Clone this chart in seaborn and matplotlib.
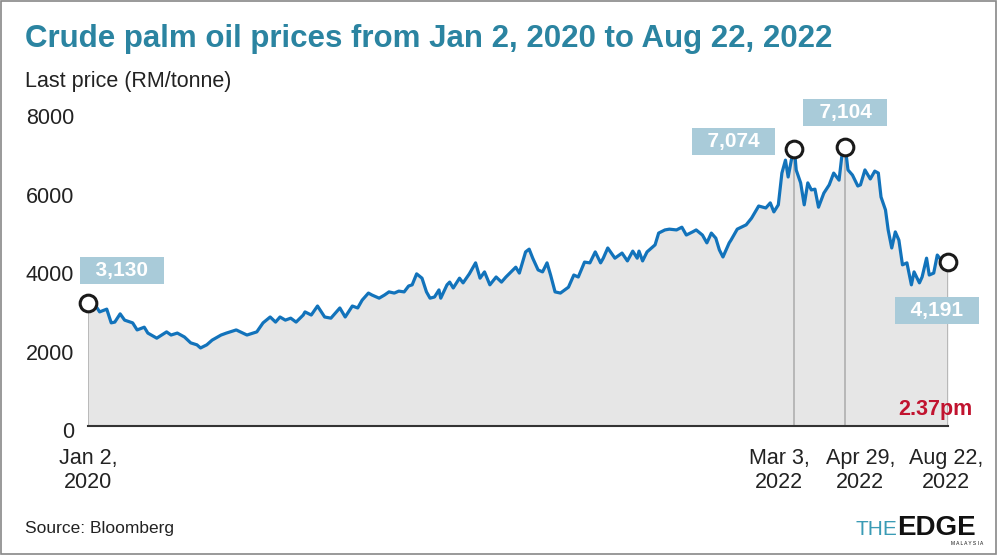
import pandas as pd
import matplotlib
matplotlib.use("Agg")
import matplotlib.pyplot as plt
import matplotlib.transforms as mtrans
from matplotlib.patches import Rectangle
import seaborn as sns

# day offsets from Jan 2, 2020 and last price (RM/tonne)
day_offsets = [
    0, 8, 13, 21, 26, 30, 36, 41, 50, 55, 63, 67, 77, 88, 93, 100, 108, 115, 122, 126,
    133, 139, 149, 155, 166, 178, 189, 196, 204, 210, 215, 221, 227, 233, 241,
    243, 250, 257, 265, 272, 282, 288, 296, 302, 307, 314, 318, 326, 332, 337, 343,
    348, 354, 359, 363, 368, 374, 379, 383, 388, 393, 395, 402, 405, 409, 416, 420,
    427, 434, 439, 444, 450, 457, 463, 468, 476, 479,
    483, 490, 494, 498, 504, 509, 514, 518, 523, 529, 538, 544, 549, 556, 562, 568,
    574, 577, 582, 590, 598, 604, 610, 615, 617, 621, 626, 631, 635, 639, 646, 651,
    659, 665, 670, 677, 681, 688, 693, 698, 703, 707, 711, 718,
    720, 727, 737, 743, 751, 759, 764, 768, 773, 777, 781, 784, 788, 791,
    793, 798, 802, 806, 810, 814, 818, 824, 830, 835, 841, 844, 848,
    851, 856, 862, 865, 870, 876, 881, 885, 888, 893, 896, 900, 904, 908, 912, 917,
    922, 925, 931, 934, 939, 942, 947, 951, 957, 963,
]
prices = [
    3130, 3090, 2910, 2980, 2630, 2650, 2860, 2700, 2630, 2450, 2520, 2370, 2240, 2400, 2320, 2370, 2270, 2120, 2070, 1990,
    2070, 2190, 2320, 2370, 2450, 2320, 2400, 2630, 2780, 2650, 2780, 2700, 2750, 2650, 2830,
    2910, 2830, 3060, 2780, 2750, 3010, 2780, 3060, 3010, 3210, 3390, 3340, 3260, 3340, 3420, 3390,
    3440, 3420, 3570, 3600, 3880, 3770, 3420, 3260, 3290, 3470, 3260, 3600, 3670, 3520, 3770, 3650,
    3880, 4160, 3770, 3930, 3600, 3800, 3670, 3800, 3980, 4050,
    3900, 4440, 4510, 4280, 3980, 3930, 4160, 3850, 3420, 3390, 3540, 3850, 3800, 4180, 4160, 4440,
    4160, 4280, 4540, 4280, 4410, 4210, 4460, 4280, 4460, 4210, 4440, 4540, 4620, 4920, 5000, 5020,
    5000, 5070, 4870, 4950, 5000, 4870, 4670, 4920, 4790, 4490, 4310, 4670,
    4740, 5020, 5130, 5300, 5610, 5560, 5690, 5460, 5640, 6450, 6780, 6350, 6830, 7074,
    6530, 6200, 5640, 6200, 6020, 6040, 5580, 5940, 6150, 6450, 6270, 6860, 7104,
    6530, 6400, 6120, 6150, 6530, 6300, 6500, 6450, 5840, 5510, 5000, 4540, 4950, 4740, 4110, 4160,
    3600, 3930, 3650, 3800, 4280, 3850, 3900, 4360, 4180, 4191,
]

start = pd.Timestamp("2020-01-02")
df = pd.DataFrame({"date": start + pd.to_timedelta(day_offsets, unit="D"), "price": prices})

# highlighted points
key_dates = ["2020-01-02", "2022-03-03", "2022-04-29", "2022-08-22"]
key_prices = [3130, 7074, 7104, 4191]
key_labels = ["3,130", "7,074", "7,104", "4,191"]
label_offsets = [(24.5, 23.4), (-43.9, 5.0), (0, 25.2), (-7.9, -35.3)]  # points
tick_labels = ["Jan 2,\n2020", "Mar 3,\n2022", "Apr 29,\n2022", "Aug 22,\n2022"]
tick_shift = [0, -15, 15, -2]  # pixels

sns.set_theme(style="white")
plt.rcParams["font.family"] = ["Liberation Sans", "DejaVu Sans"]

fig = plt.figure(figsize=(9.98, 5.55), dpi=100)
ax = fig.add_axes([88 / 998, 1 - 426 / 555, 860 / 998, 313.7 / 555])

ax.fill_between(df["date"], df["price"], 0, color="#e6e6e6", lw=0, zorder=1)
kd = pd.to_datetime(key_dates)
ax.vlines(kd, 0, key_prices, color="#aaaaaa", lw=1.1, zorder=2)
sns.lineplot(data=df, x="date", y="price", ax=ax, color="#1273bb", lw=2.3, zorder=3)
ax.plot(kd, key_prices, "o", ms=12, mfc="white", mec="#1a1a1a", mew=2.2, zorder=4, clip_on=False)

for d, p, lab, off in zip(kd, key_prices, key_labels, label_offsets):
    ax.annotate("  " + lab + "  ", (d, p), xytext=off, textcoords="offset points",
                ha="center", va="center", color="white", fontsize=15, fontweight="bold",
                bbox=dict(boxstyle="square,pad=0.2", fc="#a9cbd9", ec="none"),
                annotation_clip=False, zorder=5)

ax.set_xlim(kd[0], kd[-1])
ax.set_ylim(0, 8000)
ax.set_yticks([0, 2000, 4000, 6000, 8000])
ax.set_yticklabels(["0", "2000", "4000", "6000", "8000"], fontsize=15.5, color="#222222")
ax.set_xticks(kd)
ax.set_xticklabels(tick_labels, fontsize=15.5, color="#222222", linespacing=1.15)
ax.tick_params(axis="both", length=0)
ax.tick_params(axis="x", pad=16)
ax.tick_params(axis="y", pad=10)
for lbl in ax.get_yticklabels():
    lbl.set_transform(lbl.get_transform() + mtrans.ScaledTranslation(0, -4 / 100, fig.dpi_scale_trans))
for lbl, s in zip(ax.get_xticklabels(), tick_shift):
    lbl.set_transform(lbl.get_transform() + mtrans.ScaledTranslation(s / 100, 0, fig.dpi_scale_trans))
ax.set_xlabel("")
ax.set_ylabel("")
for side in ["left", "top", "right"]:
    ax.spines[side].set_visible(False)
ax.spines["bottom"].set_color("#333333")
ax.spines["bottom"].set_linewidth(1.5)
ax.spines["bottom"].set_zorder(6)
ax.patch.set_alpha(0)

ax.text(1.028, 0.035, "2.37pm", transform=ax.transAxes, ha="right", va="baseline",
        color="#c1132f", fontsize=15.5, fontweight="bold")

fig.text(25 / 998, 1 - 47 / 555, "Crude palm oil prices from Jan 2, 2020 to Aug 22, 2022",
         color="#2b84a1", fontsize=22.5, fontweight="heavy", va="baseline")
fig.text(25 / 998, 1 - 87 / 555, "Last price (RM/tonne)", color="#222222", fontsize=15.5, va="baseline")
fig.text(25 / 998, 1 - 533 / 555, "Source: Bloomberg", color="#222222", fontsize=12.5, va="baseline")

# logo
fig.text(897 / 998, 1 - 535 / 555, "THE", color="#3a9bb5", fontsize=15, ha="right", va="baseline")
fig.text(897 / 998, 1 - 535 / 555, "EDGE", color="#111111", fontsize=20, fontweight="heavy", va="baseline")
fig.text(983 / 998, 1 - 545 / 555, "M A L A Y S I A", color="#111111", fontsize=3.5, ha="right", va="baseline")

fig.patches.append(Rectangle((0.001, 0.002), 0.997, 0.996, transform=fig.transFigure,
                             fill=False, ec="#888888", lw=1.2))

fig.savefig("out.png", dpi=100)
